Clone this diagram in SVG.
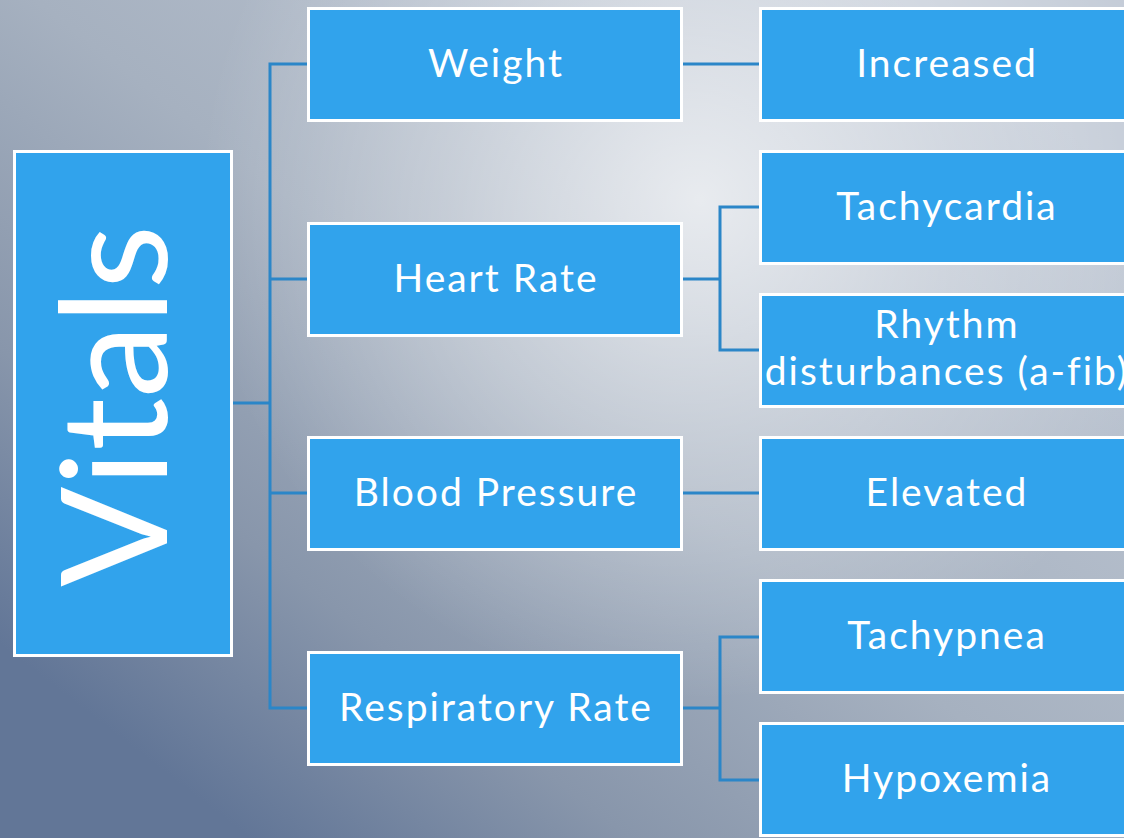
<svg xmlns="http://www.w3.org/2000/svg" width="1124" height="838" viewBox="0 0 1124 838">
<defs>
<linearGradient id="bg" gradientUnits="userSpaceOnUse" x1="900" y1="0" x2="250" y2="838">
<stop offset="0" stop-color="#c2cad6"/>
<stop offset="0.5" stop-color="#a6b1c0"/>
<stop offset="0.78" stop-color="#8896ab"/>
<stop offset="1" stop-color="#627697"/>
</linearGradient>
<radialGradient id="hl" gradientUnits="userSpaceOnUse" cx="700" cy="200" r="500">
<stop offset="0" stop-color="#ffffff" stop-opacity="0.7"/>
<stop offset="0.5" stop-color="#ffffff" stop-opacity="0.33"/>
<stop offset="1" stop-color="#ffffff" stop-opacity="0"/>
</radialGradient>
<style>
.box{fill:#31a3ec;stroke:#ffffff;stroke-width:3}
.lbl{font-family:Lato,"Open Sans","Liberation Sans",sans-serif;font-size:39px;fill:#ffffff;text-anchor:middle;letter-spacing:2px}
.con{fill:none;stroke:#2b86c8;stroke-width:3}
</style>
</defs>
<rect x="0" y="0" width="1124" height="838" fill="url(#bg)"/>
<rect x="0" y="0" width="1124" height="838" fill="url(#hl)"/>
<g id="connectors" class="con">
<path d="M233 403H270"/>
<path d="M307 64H270V708H307"/>
<path d="M270 279H307"/>
<path d="M270 493H307"/>
<path d="M683 64H759"/>
<path d="M683 279H720"/>
<path d="M759 207H720V350H759"/>
<path d="M683 493H759"/>
<path d="M683 708H720"/>
<path d="M759 637H720V780H759"/>
</g>
<g id="vitals">
<rect class="box" x="14.5" y="151.5" width="217" height="504"/>
<text class="lbl" transform="translate(167,406) rotate(-90)" x="0" y="0" style="font-size:147px;letter-spacing:0" textLength="362" lengthAdjust="spacingAndGlyphs">Vitals</text>
</g>
<g id="weight">
<rect class="box" x="308.5" y="8.5" width="373" height="112"/>
<text class="lbl" x="496" y="77">Weight</text>
</g>
<g id="heart-rate">
<rect class="box" x="308.5" y="223.5" width="373" height="112"/>
<text class="lbl" x="496" y="292">Heart Rate</text>
</g>
<g id="blood-pressure">
<rect class="box" x="308.5" y="437.5" width="373" height="112"/>
<text class="lbl" x="496" y="506">Blood Pressure</text>
</g>
<g id="respiratory-rate">
<rect class="box" x="308.5" y="652.5" width="373" height="112"/>
<text class="lbl" x="496" y="721">Respiratory Rate</text>
</g>
<g id="increased">
<rect class="box" x="760.5" y="8.5" width="373" height="112"/>
<text class="lbl" x="947" y="77">Increased</text>
</g>
<g id="tachycardia">
<rect class="box" x="760.5" y="151.5" width="373" height="112"/>
<text class="lbl" x="947" y="220">Tachycardia</text>
</g>
<g id="rhythm">
<rect class="box" x="760.5" y="294.5" width="373" height="112"/>
<text class="lbl" x="947" y="338">Rhythm</text>
<text class="lbl" x="947" y="385">disturbances (a-fib)</text>
</g>
<g id="elevated">
<rect class="box" x="760.5" y="437.5" width="373" height="112"/>
<text class="lbl" x="947" y="506">Elevated</text>
</g>
<g id="tachypnea">
<rect class="box" x="760.5" y="580.5" width="373" height="112"/>
<text class="lbl" x="947" y="649">Tachypnea</text>
</g>
<g id="hypoxemia">
<rect class="box" x="760.5" y="723.5" width="373" height="112"/>
<text class="lbl" x="947" y="792">Hypoxemia</text>
</g>
</svg>
